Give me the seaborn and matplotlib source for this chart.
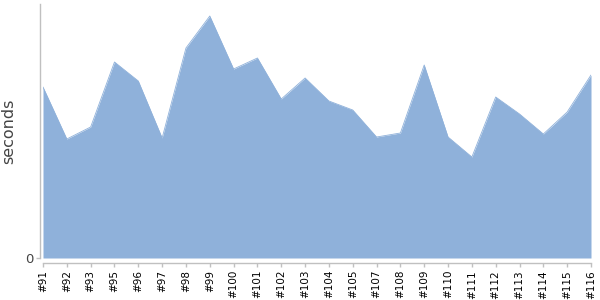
import matplotlib
matplotlib.use("Agg")
import matplotlib.pyplot as plt
import seaborn as sns
import numpy as np
import pandas as pd

builds = ["#91", "#92", "#93", "#95", "#96", "#97", "#98", "#99", "#100", "#101",
          "#102", "#103", "#104", "#105", "#107", "#108", "#109", "#110", "#111",
          "#112", "#113", "#114", "#115", "#116"]
seconds = [171, 119, 131, 196, 177, 120, 210, 242, 189, 200,
           159, 180, 157, 148, 121, 125, 193, 121, 101,
           161, 144, 124, 146, 183]
y_ticks = [0]
y_max = 254

sns.set_style("white")
fill_color = "#8fb1da"

df = pd.DataFrame({"build": builds, "seconds": seconds})
df["pos"] = np.arange(len(df))

fig = plt.figure(figsize=(6, 3), dpi=100)
ax = fig.add_axes([43/600, 42/300, 548/600, 254/300])

sns.lineplot(data=df, x="pos", y="seconds", ax=ax, color=fill_color, linewidth=0.6)
ax.fill_between(df["pos"], 0, df["seconds"], color=fill_color, linewidth=0)

ax.set_xlim(0, len(df) - 1)
ax.set_ylim(0, y_max)
ax.set_xticks(df["pos"].tolist())
ax.set_xticklabels(df["build"].tolist())
ax.set_yticks(y_ticks)
ax.set_yticklabels([str(v) for v in y_ticks])
ax.set_xlabel("")
ax.set_ylabel("seconds", fontsize=11.5, color="#444444")
ax.yaxis.set_label_coords(-27/548, 0.5)

for side in ["top", "right"]:
    ax.spines[side].set_visible(False)
ax.spines["left"].set_position(("outward", 3 * 0.72))
ax.spines["bottom"].set_position(("outward", 5 * 0.72))
for side in ["left", "bottom"]:
    ax.spines[side].set_color("#c0c0c0")
    ax.spines[side].set_linewidth(1)
ax.tick_params(axis="both", which="both", length=3, width=1, color="#c0c0c0",
               bottom=True, left=True, pad=2)
ax.tick_params(axis="x", labelrotation=90, labelsize=7.5, labelcolor="black")
ax.tick_params(axis="y", labelsize=9.5, labelcolor="#444444")

fig.savefig("out.png", dpi=100)
